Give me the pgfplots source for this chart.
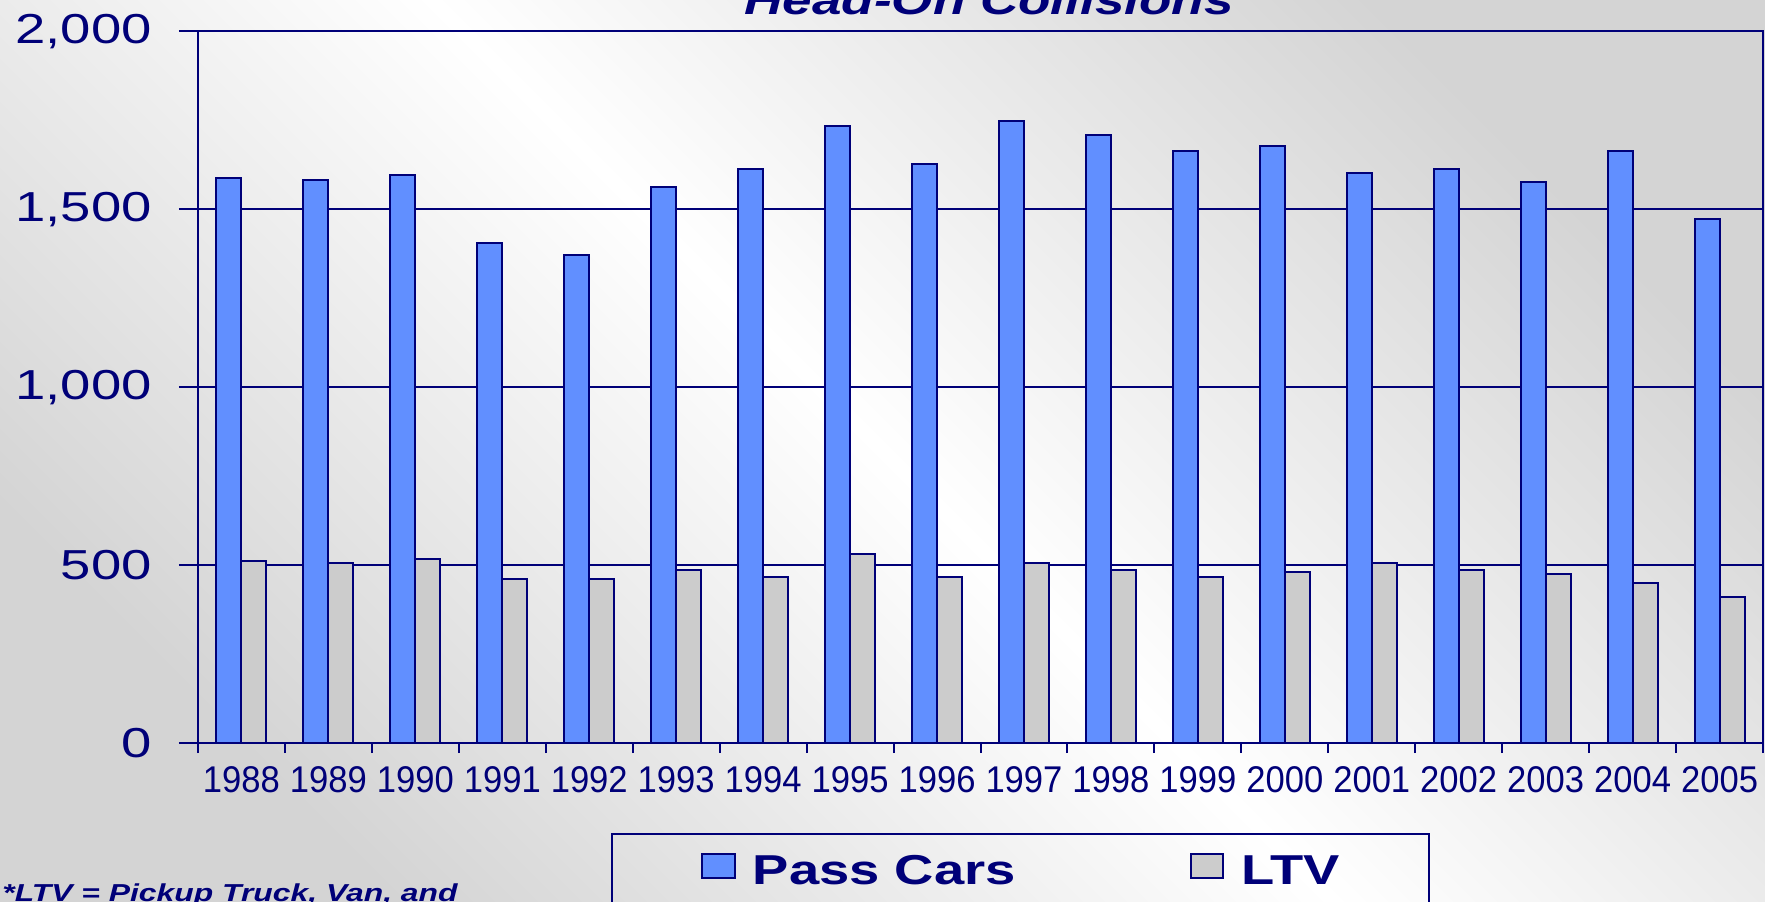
\documentclass[border=0pt]{standalone}
\usepackage{pgfplots}
\pgfplotsset{compat=1.18}
\usepackage{fontspec}
\setmainfont{Liberation Sans}[FakeStretch=1.3]
\newfontfamily\narrowfont{Liberation Sans}[FakeStretch=0.93]
\definecolor{navyc}{RGB}{0,0,120}
\definecolor{passblue}{RGB}{97,143,255}
\definecolor{ltvgray}{RGB}{204,204,204}
\definecolor{bggray}{RGB}{212,212,212}
\pgfplotstableread{
idx pass ltv
0  1588 511
1  1582 506
2  1595 518
3  1404 462
4  1371 462
5  1562 487
6  1613 467
7  1734 532
8  1626 467
9  1747 506
10 1708 486
11 1664 467
12 1678 480
13 1602 506
14 1613 486
15 1576 474
16 1664 449
17 1473 410
}\datatable
\begin{document}
\begin{tikzpicture}[x=1pt,y=1pt]
\shade[top color=bggray, bottom color=bggray, middle color=white, shading angle=-45] (0,0) rectangle (882.5,450.5);
\begin{axis}[
  at={(99pt,79pt)}, anchor=south west,
  scale only axis, width=782.5pt, height=355.85pt,
  xmin=-0.5, xmax=17.5, ymin=0, ymax=2000,
  ybar=0pt, bar width=12.5pt,
  axis line style={navyc, line width=1pt},
  ytick={0,500,1000,1500,2000},
  yticklabels={0,500,{1,000},{1,500},{2,000}},
  ymajorgrids, grid style={navyc, line width=1pt},
  xtick={-0.5,0.5,...,17.5},
  x tick label as interval,
  xticklabels={1988,1989,1990,1991,1992,1993,1994,1995,1996,1997,1998,1999,2000,2001,2002,2003,2004,2005},
  tick align=outside,
  tick pos=left,
  major tick length=9.5pt,
  tick style={navyc, line width=1pt},
  xtick style={/pgfplots/major tick length=5pt},
  yticklabel style={font=\fontsize{20.95}{21}\selectfont, text=navyc, anchor=east, inner sep=0pt, xshift=-13.5pt},
  xticklabel style={font=\narrowfont\fontsize{18.6}{19}\selectfont, text=navyc, anchor=north, inner sep=0pt, yshift=-2.3pt},
  legend columns=2,
  legend style={at={(0.2638,-0.1269)}, anchor=north west, draw=navyc, line width=1pt, fill=none,
    font=\fontsize{20.9}{21}\selectfont\bfseries, text=navyc,
    inner xsep=44.75pt, inner ysep=9pt,
    nodes={inner sep=0pt, text height=16pt, text depth=10pt},
    /tikz/every odd column/.append style={column sep=8.5pt},
    /tikz/every even column/.append style={column sep=87pt}},
]
\addplot[fill=passblue, draw=navyc, line width=1pt,
  legend image code/.code={\draw[fill=passblue, draw=navyc, line width=1pt] (0pt,0pt) rectangle (16.25pt,12.2pt);}]
  table[x=idx, y=pass] {\datatable};
\addlegendentry{Pass Cars}
\addplot[fill=ltvgray, draw=navyc, line width=1pt,
  legend image code/.code={\draw[fill=ltvgray, draw=navyc, line width=1pt] (0pt,0pt) rectangle (16.25pt,12.2pt);}]
  table[x=idx, y=ltv] {\datatable};
\addlegendentry{LTV}
\end{axis}
\node[anchor=base, inner sep=0pt, text=navyc, font=\fontsize{20.4}{21}\selectfont\bfseries\itshape] at (494.5,443) {Head-On Collisions};
\node[anchor=base west, inner sep=0pt, text=navyc, font=\fontsize{12.25}{13}\selectfont\bfseries\itshape] at (1,-0.3) {*LTV = Pickup Truck, Van, and};
\pgfresetboundingbox
\path[use as bounding box] (0,0) rectangle (882.5,450.5);
\end{tikzpicture}
\end{document}
